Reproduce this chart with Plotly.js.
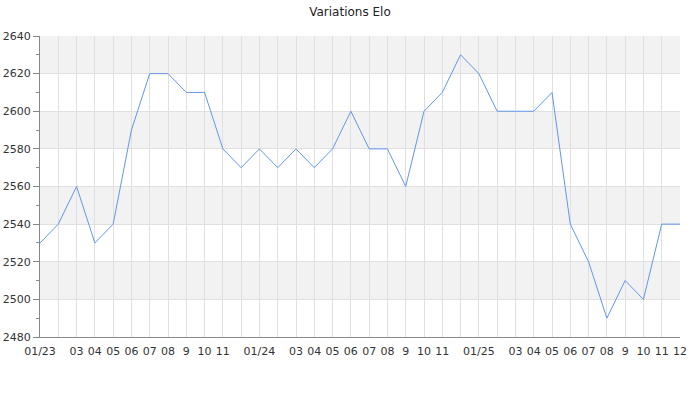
<!DOCTYPE html>
<html>
<head>
<meta charset="utf-8">
<script src="https://cdn.plot.ly/plotly-3.0.1.min.js"></script>
<style>html,body{margin:0;padding:0;background:#fff;}#chart{width:700px;height:400px;}</style>
</head>
<body>
<div id="chart"></div>
<script>
const months = [
  "2023-01","2023-02","2023-03","2023-04","2023-05","2023-06","2023-07","2023-08","2023-09","2023-10","2023-11","2023-12",
  "2024-01","2024-02","2024-03","2024-04","2024-05","2024-06","2024-07","2024-08","2024-09","2024-10","2024-11","2024-12",
  "2025-01","2025-02","2025-03","2025-04","2025-05","2025-06","2025-07","2025-08","2025-09","2025-10","2025-11","2025-12"
];
const elo = [
  2530,2540,2560,2530,2540,2590,2620,2620,2610,2610,2580,2570,
  2580,2570,2580,2570,2580,2600,2580,2580,2560,2600,2610,2630,
  2620,2600,2600,2600,2610,2540,2520,2490,2510,2500,2540,2540
];
const tickLabels = [
  "01/23","","03","04","05","06","07","08","9","10","11","",
  "01/24","","03","04","05","06","07","08","9","10","11","",
  "01/25","","03","04","05","06","07","08","9","10","11","12"
];
const bands = [[2500,2520],[2540,2560],[2580,2600],[2620,2640]];

const shapes = bands.map(b => ({
  type:'rect', xref:'paper', yref:'y', x0:0, x1:1, y0:b[0], y1:b[1],
  fillcolor:'#f2f2f2', line:{width:0}, layer:'below'
}));

const trace = {
  x: months, y: elo, type:'scatter', mode:'lines',
  line:{color:'#6495ed', width:1}, hoverinfo:'x+y'
};

const layout = {
  width:700, height:400,
  margin:{l:40, r:20, t:36, b:63},
  paper_bgcolor:'#ffffff', plot_bgcolor:'rgba(0,0,0,0)',
  font:{family:'DejaVu Sans, sans-serif', size:11, color:'#333'},
  title:{text:'Variations Elo', x:0.5, xanchor:'center', y:0.97, yanchor:'middle', font:{size:12, color:'#222'}},
  showlegend:false,
  shapes: shapes,
  xaxis:{
    type:'category', range:[0, months.length-1],
    tickmode:'array', tickvals: months, ticktext: tickLabels, tickangle:0,
    showgrid:true, gridcolor:'#e0e0e0', gridwidth:1,
    showline:true, linecolor:'#888', linewidth:1,
    ticks:'', ticklabelstandoff:4, zeroline:false, fixedrange:true
  },
  yaxis:{
    range:[2480,2640], dtick:20, tick0:2480,
    showgrid:true, gridcolor:'#e0e0e0', gridwidth:1,
    showline:true, linecolor:'#888', linewidth:1,
    ticks:'outside', ticklen:6, tickcolor:'#888',
    minor:{dtick:10, ticks:'outside', ticklen:3, tickcolor:'#888', showgrid:false},
    zeroline:false, fixedrange:true
  }
};

Plotly.newPlot('chart', [trace], layout, {displayModeBar:false, staticPlot:true});
</script>
</body>
</html>
